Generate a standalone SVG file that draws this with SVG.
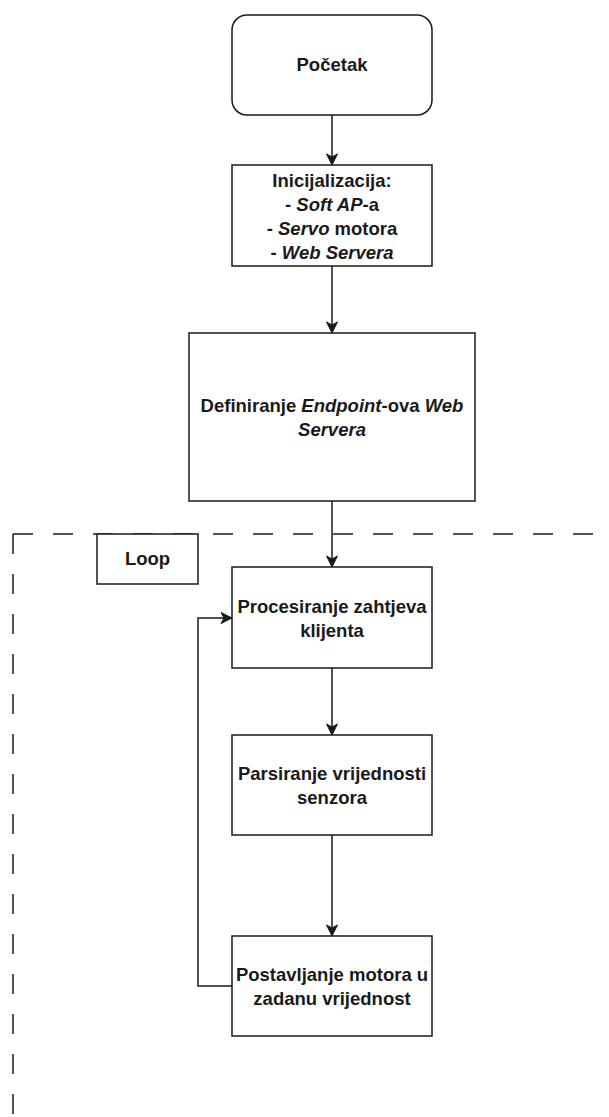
<svg xmlns="http://www.w3.org/2000/svg" width="609" height="1117" viewBox="0 0 609 1117">
<style>
.box{fill:#fff;stroke:#1a1a1a;stroke-width:1.5}
.t{font-family:"Liberation Sans",Arial,sans-serif;font-size:18.5px;font-weight:bold;fill:#1a1a1a;text-anchor:middle}
.i{font-style:italic}
.c{fill:none;stroke:#1a1a1a;stroke-width:1.5}
.d{fill:none;stroke:#1a1a1a;stroke-width:1.5;stroke-dasharray:20 20}
</style>
<defs>
<marker id="arr" markerUnits="userSpaceOnUse" markerWidth="14" markerHeight="14" viewBox="-12 -7 14 14" refX="0" refY="0" orient="auto">
<path d="M0,0 L-11,-5.5 L-8,0 L-11,5.5 Z" fill="#1a1a1a" stroke="#1a1a1a" stroke-width="1"/>
</marker>
</defs>
<g id="loop-frame">
<line class="d" x1="13" y1="534" x2="609" y2="534"/>
<line class="d" x1="13" y1="534" x2="13" y2="1117"/>
</g>
<g id="connectors">
<path class="c" d="M332,115 L332,165" marker-end="url(#arr)"/>
<path class="c" d="M332,266 L332,333" marker-end="url(#arr)"/>
<path class="c" d="M332,501 L332,567" marker-end="url(#arr)"/>
<path class="c" d="M332,668 L332,735" marker-end="url(#arr)"/>
<path class="c" d="M332,835 L332,936" marker-end="url(#arr)"/>
<path class="c" d="M232,986 L198,986 L198,618 L232,618" marker-end="url(#arr)"/>
</g>
<g id="pocetak">
<rect class="box" x="232" y="15" width="200" height="100" rx="15" ry="15"/>
<text class="t" x="332" y="71">Početak</text>
</g>
<g id="inicijalizacija">
<rect class="box" x="232" y="165" width="200" height="101"/>
<text class="t" x="332" y="186.5">Inicijalizacija:</text>
<text class="t" x="332" y="210.5">- <tspan class="i">Soft AP</tspan>-a</text>
<text class="t" x="332" y="234.5">- <tspan class="i">Servo</tspan> motora</text>
<text class="t" x="332" y="258.5">- <tspan class="i">Web Servera</tspan></text>
</g>
<g id="definiranje">
<rect class="box" x="189" y="333" width="286" height="168"/>
<text class="t" x="332" y="412">Definiranje <tspan class="i">Endpoint</tspan>-ova <tspan class="i">Web</tspan></text>
<text class="t i" x="332" y="436">Servera</text>
</g>
<g id="loop-label">
<rect class="box" x="97" y="534" width="101" height="50"/>
<text class="t" x="147.5" y="565">Loop</text>
</g>
<g id="procesiranje">
<rect class="box" x="232" y="567" width="200" height="101"/>
<text class="t" x="332" y="612.5">Procesiranje zahtjeva</text>
<text class="t" x="332" y="636.5">klijenta</text>
</g>
<g id="parsiranje">
<rect class="box" x="232" y="735" width="200" height="100"/>
<text class="t" x="332" y="780">Parsiranje vrijednosti</text>
<text class="t" x="332" y="804">senzora</text>
</g>
<g id="postavljanje">
<rect class="box" x="232" y="936" width="200" height="100"/>
<text class="t" x="332" y="981">Postavljanje motora u</text>
<text class="t" x="332" y="1005">zadanu vrijednost</text>
</g>
</svg>
